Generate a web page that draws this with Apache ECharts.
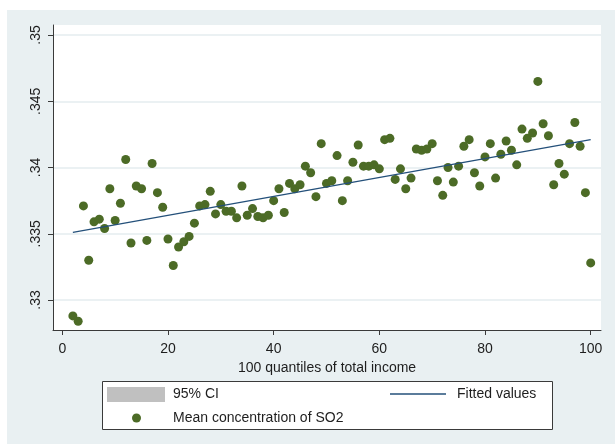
<!DOCTYPE html>
<html>
<head>
<meta charset="utf-8">
<script src="https://cdn.jsdelivr.net/npm/echarts@6/dist/echarts.min.js"></script>
<style>
html,body{margin:0;padding:0;background:#fff;width:615px;height:444px;overflow:hidden;}
#chart{position:absolute;left:7px;top:10px;width:608px;height:434px;}
</style>
</head>
<body>
<div id="chart"></div>
<script>
const quantiles = [2,3,4,5,6,7,8,9,10,11,12,13,14,15,16,17,18,19,20,21,22,23,24,25,26,27,28,29,30,31,32,33,34,35,36,37,38,39,40,41,42,43,44,45,46,47,48,49,50,51,52,53,54,55,56,57,58,59,60,61,62,63,64,65,66,67,68,69,70,71,72,73,74,75,76,77,78,79,80,81,82,83,84,85,86,87,88,89,90,91,92,93,94,95,96,97,98,99,100];
const so2Mean = [
  .3288,.3284,.3371,.3330,.3359,.3361,.3354,.3384,.3360,.3373,
  .3406,.3343,.3386,.3384,.3345,.3403,.3381,.3370,.3346,.3326,
  .3340,.3344,.3348,.3358,.3371,.3372,.3382,.3365,.3372,.3367,
  .3367,.3362,.3386,.3364,.3369,.3363,.3362,.3364,.3375,.3384,
  .3366,.3388,.3384,.3387,.3401,.3396,.3378,.3418,.3388,.3390,
  .3409,.3375,.3390,.3404,.3417,.3401,.3401,.3402,.3399,.3421,
  .3422,.3391,.3399,.3384,.3392,.3414,.3413,.3414,.3418,.3390,
  .3379,.3400,.3389,.3401,.3416,.3421,.3396,.3386,.3408,.3418,
  .3392,.3410,.3420,.3413,.3402,.3429,.3422,.3426,.3465,.3433,
  .3424,.3387,.3403,.3395,.3418,.3434,.3416,.3381,.3328
];
const fittedX = [2, 100];
const fittedY = [0.3351, 0.3421];
const xTicks = [0, 20, 40, 60, 80, 100];
const yTicks = [0.33, 0.335, 0.34, 0.345, 0.35];

const scatterData = quantiles.map((q, i) => [q, so2Mean[i]]);
const fitData = fittedX.map((x, i) => [x, fittedY[i]]);

const FONT = 'Liberation Sans, Arial, sans-serif';
const TXT = '#1e1e1e';
const AX = '#3a3a3a';
const GREEN = '#4c6b26';
const NAVY = '#24507a';

const chart = echarts.init(document.getElementById('chart'), null, {renderer: 'canvas'});
chart.setOption({
  animation: false,
  backgroundColor: '#e9f0f2',
  textStyle: {fontFamily: FONT},
  graphic: [{
    type: 'rect', left: 95, top: 371, z: 0,
    shape: {width: 450, height: 48},
    style: {fill: '#fff', stroke: '#3a3a3a', lineWidth: 1}
  }],
  grid: {
    left: 46, top: 15, right: 14, bottom: 114,
    show: true, backgroundColor: '#fff', borderWidth: 0
  },
  xAxis: {
    type: 'value', min: -1.76, max: 101.95,
    name: '100 quantiles of total income',
    nameLocation: 'middle', nameGap: 25,
    nameTextStyle: {fontSize: 14, color: TXT, fontFamily: FONT},
    axisLine: {show: true, onZero: false, lineStyle: {color: AX, width: 1}},
    axisTick: {show: true, length: 5, lineStyle: {color: AX}, customValues: xTicks},
    axisLabel: {fontSize: 14, color: TXT, margin: 12, fontFamily: FONT, customValues: xTicks,
      formatter: v => String(v)},
    splitLine: {show: false}
  },
  yAxis: {
    type: 'value', min: 0.327736, max: 0.350755,
    axisLine: {show: true, onZero: false, lineStyle: {color: AX, width: 1}},
    axisTick: {show: true, length: 5, lineStyle: {color: AX}, customValues: yTicks},
    axisLabel: {fontSize: 14, color: TXT, margin: 10, rotate: 90, fontFamily: FONT, customValues: yTicks,
      formatter: v => String(+v.toFixed(3)).replace(/^0/, '')},
    splitLine: {show: true, lineStyle: {color: '#e4edef', width: 1.5}}
  },
  legend: [
    {left: 100, top: 377, padding: 0, itemWidth: 58, itemHeight: 15,
     data: [{name: '95% CI', icon: 'rect'}],
     textStyle: {fontSize: 14, color: TXT, fontFamily: FONT, padding: [0, 0, 0, 3]}},
    {left: 383, top: 377, padding: 0, itemWidth: 56, itemHeight: 1.4,
     data: [{name: 'Fitted values', icon: 'rect', itemStyle: {color: NAVY}}],
     textStyle: {fontSize: 14, color: TXT, fontFamily: FONT, padding: [0, 0, 0, 6]}},
    {left: 125, top: 401, padding: 0, itemWidth: 9, itemHeight: 9,
     data: [{name: 'Mean concentration of SO2', icon: 'circle'}],
     textStyle: {fontSize: 14, color: TXT, fontFamily: FONT, padding: [0, 0, 0, 27]}}
  ],
  series: [
    {name: '95% CI', type: 'scatter', data: [], itemStyle: {color: '#c0c0c0', opacity: 1}},
    {name: 'Mean concentration of SO2', type: 'scatter', data: scatterData,
     symbol: 'circle', symbolSize: 9, itemStyle: {color: GREEN, opacity: 1}, z: 3},
    {name: 'Fitted values', type: 'line', data: fitData, symbol: 'none',
     lineStyle: {color: NAVY, width: 1.3}, itemStyle: {color: NAVY}, z: 4}
  ]
});
</script>
</body>
</html>
